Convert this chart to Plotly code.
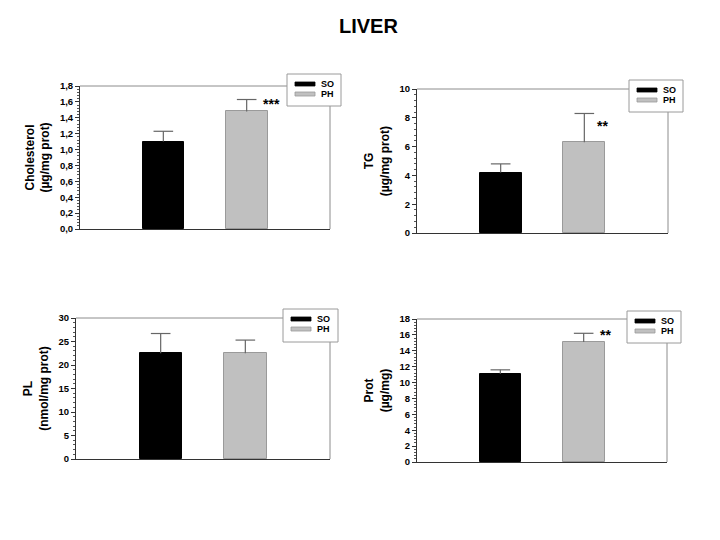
import plotly.graph_objects as go

groups = ["SO", "PH"]
colors = ["#000000", "#c0c0c0"]

chol = [1.10, 1.48]
chol_err = [0.13, 0.15]
tg = [4.2, 6.3]
tg_err = [0.6, 2.0]
pl = [22.5, 22.5]
pl_err = [4.2, 2.8]
prot = [11.1, 15.1]
prot_err = [0.5, 1.1]

W, H = 720, 540
OX, OY = 8, 8  # page body offset


def px(x):
    return (x - OX) / W


def py(y):
    return 1 - (y - OY) / H


panels = [
    dict(vals=chol, err=chol_err, title="Cholesterol<br>(µg/mg prot)", rng=[0, 1.8], dtick=0.2,
         fmt=".1f", star="***", star_y=1.57, star_dx=25,
         box=(80, 86, 330, 229), leg=(287, 74, 341, 106)),
    dict(vals=tg, err=tg_err, title="TG<br>(µg/mg prot)", rng=[0, 10], dtick=2,
         fmt="d", star="**", star_y=7.4, star_dx=18,
         box=(417, 89, 668, 233), leg=(629, 80, 683, 112)),
    dict(vals=pl, err=pl_err, title="PL<br>(nmol/mg prot)", rng=[0, 30], dtick=5,
         fmt="d", star=None, star_y=None, star_dx=0,
         box=(76, 318, 330, 459), leg=(283, 309, 338, 342)),
    dict(vals=prot, err=prot_err, title="Prot<br>(µg/mg)", rng=[0, 18], dtick=2,
         fmt="d", star="**", star_y=16.0, star_dx=22,
         box=(417, 319, 667, 462), leg=(627, 311, 681, 343)),
]

font_family = "Liberation Sans, Arial, sans-serif"
err_color = "#666666"
fig = go.Figure()
shapes = []
annotations = []

for i, p in enumerate(panels):
    n = "" if i == 0 else str(i + 1)
    xa, ya = "x" + n, "y" + n
    bx0, by0, bx1, by1 = p["box"]
    for g, (name, col) in enumerate(zip(groups, colors)):
        fig.add_trace(go.Bar(
            x=[name], y=[p["vals"][g]], xaxis=xa, yaxis=ya,
            marker=dict(color=col, line=dict(color="#000000" if g == 0 else "#9a9a9a", width=1)),
            width=0.5, showlegend=False,
        ))
    # one-sided (upper) error bars: stem + cap
    ex, ey = [], []
    for g, name in enumerate(groups):
        ex += [name, name, None]
        ey += [p["vals"][g], p["vals"][g] + p["err"][g], None]
    fig.add_trace(go.Scatter(x=ex, y=ey, xaxis=xa, yaxis=ya, mode="lines",
                             line=dict(color=err_color, width=1.2), showlegend=False,
                             hoverinfo="skip"))
    fig.add_trace(go.Scatter(x=groups, y=[v + e for v, e in zip(p["vals"], p["err"])],
                             xaxis=xa, yaxis=ya, mode="markers", showlegend=False,
                             marker=dict(symbol="line-ew", size=14,
                                         line=dict(color=err_color, width=1.2))))
    fig.layout["xaxis" + n] = dict(
        domain=[px(bx0), px(bx1)], anchor=ya, type="category", categoryorder="array",
        categoryarray=groups, range=[-1, 2], showticklabels=False, ticks="",
        showline=True, linecolor="#333333", linewidth=1, showgrid=False, zeroline=False,
        automargin=False, fixedrange=True)
    fig.layout["yaxis" + n] = dict(
        domain=[py(by1), py(by0)], anchor=xa, range=p["rng"], dtick=p["dtick"], tick0=0,
        tickformat=p["fmt"], ticks="outside", ticklen=4, tickwidth=1, tickcolor="#333333",
        minor=dict(ticks="outside", ticklen=2, dtick=p["dtick"] / 5, tickcolor="#555555", tickwidth=1),
        showline=True, linecolor="#333333", linewidth=1, showgrid=False, zeroline=False,
        tickfont=dict(size=9.5, family=font_family, color="#000000", weight="bold"),
        title=dict(text=p["title"], standoff=7,
                   font=dict(size=12, family=font_family, color="#000000", weight="bold")),
        automargin=False, fixedrange=True)
    # frame: top and right in gray
    shapes.append(dict(type="line", xref=xa + " domain", yref=ya + " domain",
                       x0=0, x1=1, y0=1, y1=1, line=dict(color="#8c8c8c", width=1)))
    shapes.append(dict(type="line", xref=xa + " domain", yref=ya + " domain",
                       x0=1, x1=1, y0=0, y1=1, line=dict(color="#8c8c8c", width=1)))
    # legend box
    lx0, ly0, lx1, ly1 = p["leg"]
    shapes.append(dict(type="rect", xref="paper", yref="paper",
                       x0=px(lx0), x1=px(lx1), y0=py(ly1), y1=py(ly0),
                       fillcolor="white", line=dict(color="#9a9a9a", width=1)))
    for g, (name, col) in enumerate(zip(groups, colors)):
        cy = ly0 + 10 + g * 10
        shapes.append(dict(type="rect", xref="paper", yref="paper",
                           x0=px(lx0 + 8), x1=px(lx0 + 28),
                           y0=py(cy + 2), y1=py(cy - 2),
                           fillcolor=col, line=dict(color="#000000" if g == 0 else "#9a9a9a", width=0.8)))
        annotations.append(dict(text=name, xref="paper", yref="paper",
                                x=px(lx0 + 32), y=py(cy), xanchor="left", yanchor="middle",
                                showarrow=False,
                                font=dict(size=9, family=font_family, color="#000000", weight="bold")))
    if p["star"]:
        annotations.append(dict(text=p["star"], xref=xa, yref=ya, x="PH", y=p["star_y"],
                                xshift=p["star_dx"], xanchor="center", yanchor="middle",
                                showarrow=False,
                                font=dict(size=14, family=font_family, color="#000000", weight="bold")))

annotations.append(dict(text="LIVER", xref="paper", yref="paper", x=px(368), y=py(26),
                        xanchor="center", yanchor="middle", showarrow=False,
                        font=dict(size=20, family=font_family, color="#000000", weight="bold")))

fig.update_layout(
    width=W, height=H, margin=dict(l=0, r=0, t=0, b=0),
    paper_bgcolor="white", plot_bgcolor="white",
    separators=",.", showlegend=False, bargap=0,
    shapes=shapes, annotations=annotations,
)
fig.write_html("out.html")
